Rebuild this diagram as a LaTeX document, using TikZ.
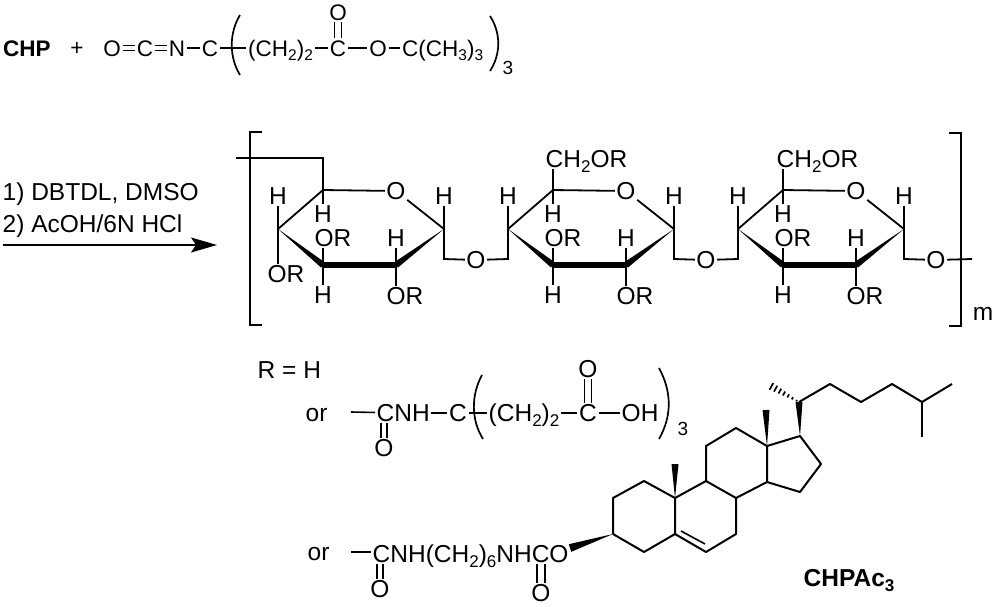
\documentclass[tikz,border=0pt]{standalone}
\usepackage{fontspec}
\setmainfont{Liberation Sans}
\usetikzlibrary{calc,arrows.meta}
\newcommand\sbs[1]{\raisebox{-5pt}{\fontsize{17}{17}\selectfont #1}}
\newcommand\tsbs[1]{\raisebox{-4.5pt}{\fontsize{15.5}{15.5}\selectfont #1}}
\newcommand\wdg[3]{\fill ($(#2)!#3!90:(#1)$) -- (#1) -- ($(#2)!#3!-90:(#1)$) -- cycle;}
\tikzset{
  atom/.style={font=\fontsize{24.5}{28}\selectfont,inner sep=1.5pt,text height=17.5pt,text depth=0pt,text=black},
  topatom/.style={font=\fontsize{22.5}{26}\selectfont,inner sep=2pt,text height=16.1pt,text depth=0pt,text=black},
  boldlabel/.style={atom,font=\fontsize{24.5}{28}\selectfont\bfseries},
  topbold/.style={topatom,font=\fontsize{22.5}{26}\selectfont\bfseries},
  bond/.style={line width=1.8pt,line join=miter},
  thinbond/.style={line width=1.6pt},
  paren/.style={line width=1.7pt},
  brack/.style={line width=1.8pt},
  rxn/.style={line width=1.7pt,-{Stealth[length=26pt,width=15pt,inset=5pt]}},
  steroid/.style={line width=2pt,line join=round},
}
\begin{document}
\begin{tikzpicture}[x=1pt,y=-1pt]
\useasboundingbox (0,0) rectangle (1000,606);
% ---- first line
\node[topbold,anchor=west] (chp) at (1,48) {CHP};
\node[topatom] (plus) at (77,47) {+};
\node[topatom] (o1) at (112,48) {O};
\node[topatom] (c1) at (145,48) {C};
\node[topatom] (n1) at (177,48) {N};
\node[topatom] (c2) at (210,48) {C};
\node[topatom,anchor=west] (ch1) at (246,48) {(CH\tsbs{2})\tsbs{2}};
\node[topatom] (c3) at (338,48) {C};
\node[topatom] (o2) at (338,12) {O};
\node[topatom] (o3) at (378,48) {O};
\node[topatom,anchor=west] (tb) at (400,48) {C(CH\tsbs{3})\tsbs{3}};
\node[topatom] (n3a) at (508,66) {\fontsize{19}{19}\selectfont 3};
\draw[thinbond] ([yshift=-2.5pt]o1.east) -- ([yshift=-2.5pt]c1.west) ([yshift=2.5pt]o1.east) -- ([yshift=2.5pt]c1.west);
\draw[thinbond] ([yshift=-2.5pt]c1.east) -- ([yshift=-2.5pt]n1.west) ([yshift=2.5pt]c1.east) -- ([yshift=2.5pt]n1.west);
\draw[thinbond] (n1) -- (c2);
\draw[thinbond] (c2) -- (ch1);
\draw[thinbond] (ch1) -- (c3);
\draw[thinbond] (c3) -- (o3);
\draw[thinbond] (o3) -- (tb);
\draw[thinbond] ([xshift=-3.5pt]c3.north) -- ([xshift=-3.5pt]o2.south) ([xshift=3.5pt]c3.north) -- ([xshift=3.5pt]o2.south);
\coordinate (pl1) at (240,15); \coordinate (pl2) at (240,75);
\coordinate (pr1) at (490,16); \coordinate (pr2) at (490,71);
\draw[paren] (pl1) .. controls (229,33) and (229,57) .. (pl2);
\draw[paren] (pr1) .. controls (501,33) and (501,54) .. (pr2);
% ---- reagents and arrow
\node[atom,anchor=west] (r1) at (1,192) {1) DBTDL, DMSO};
\node[atom,anchor=west] (r2) at (1,224) {2) AcOH/6N HCl};
\coordinate (as) at (3,245); \coordinate (ae) at (217,245);
\draw[rxn] (as) -- (ae);
% ---- brackets
\coordinate (bl1) at (262,132); \coordinate (bl2) at (250,132); \coordinate (bl3) at (250,325); \coordinate (bl4) at (262,325);
\draw[brack] (bl1) -- (bl2) -- (bl3) -- (bl4);
\coordinate (br1) at (949,133); \coordinate (br2) at (961,133); \coordinate (br3) at (961,326); \coordinate (br4) at (949,326);
\draw[brack] (br1) -- (br2) -- (br3) -- (br4);
\node[atom] (m) at (983,312) {m};
% ---- sugar rings
\foreach \r/\dx in {a/0,b/230,c/460}{
  \begin{scope}[xshift=\dx pt]
    \coordinate (\r c5) at (323,190);
    \node[atom] (\r o) at (396,191) {O};
    \coordinate (\r c1) at (444,229);
    \coordinate (\r c2) at (396,265);
    \coordinate (\r c3) at (323,265);
    \coordinate (\r c4) at (278,229);
    \coordinate (\r c6) at (444,259);
    \coordinate (\r c7) at (278,259);
    \node[atom] (\r h5) at (323,214) {H};
    \node[atom] (\r h4) at (278,196) {H};
    \node[atom] (\r or3) at (333,238) {OR};
    \node[atom] (\r h3) at (323,295) {H};
    \node[atom] (\r h2) at (396,238) {H};
    \node[atom] (\r or2) at (405,296) {OR};
    \node[atom] (\r h1) at (444,196) {H};
    \node[atom] (\r ol) at (476,260) {O};
    \draw[bond] (\r c4) -- (\r c5) -- (\r o) -- (\r c1);
    \wdg{\r c4}{\r c3}{3.2pt}
    \wdg{\r c1}{\r c2}{3.2pt}
    \draw[line width=6.4pt] (\r c3) -- (\r c2);
    \draw[bond] (\r c5) -- (\r h5);
    \draw[bond] (\r c4) -- (\r h4);
    \draw[bond] (\r c3) -- (\r c3 |- \r or3.south);
    \draw[bond] (\r c3) -- (\r h3);
    \draw[bond] (\r c2) -- (\r h2);
    \draw[bond] (\r c2) -- (\r c2 |- \r or2.north);
    \draw[bond] (\r c1) -- (\r h1);
    \draw[bond] (\r c1) -- (\r c6) -- (\r ol);
  \end{scope}
}
\node[atom] (aor4) at (286,274) {OR};
\draw[bond] (ac4) -- (ac4 |- aor4.north);
\coordinate (a0) at (236,158); \coordinate (a1) at (323,158);
\draw[bond] (a0) -- (a1) -- (ac5);
\node[atom,anchor=west] (bch) at (544,159) {CH\sbs{2}OR};
\node[atom,anchor=west] (cch) at (775,159) {CH\sbs{2}OR};
\draw[bond] (bc5) -- (bc5 |- bch.south);
\draw[bond] (cc5) -- (cc5 |- cch.south);
\draw[bond] (aol) -- (bc7) -- (bc4);
\draw[bond] (bol) -- (cc7) -- (cc4);
\coordinate (tail) at (972,259);
\draw[bond] (col) -- (tail);
% ---- R definitions
\node[atom,anchor=west] (rh) at (256,370) {R = H};
\node[atom,anchor=west] (or1) at (304,413) {or};
\coordinate (d1) at (351,412);
\node[atom,anchor=west] (cnh) at (375,413) {CNH};
\node[atom] (o4) at (384,448) {O};
\node[atom] (c4) at (458,413) {C};
\node[atom,anchor=west] (ch2) at (487,413) {(CH\sbs{2})\sbs{2}};
\node[atom] (c5) at (588,413) {C};
\node[atom] (o5) at (588,369) {O};
\node[atom,anchor=west] (oh) at (620,413) {OH};
\node[atom] (n3b) at (683,427) {\fontsize{19}{19}\selectfont 3};
\draw[thinbond] (d1) -- (cnh);
\draw[thinbond] (cnh) -- (c4);
\draw[thinbond] (c4) -- (ch2);
\draw[thinbond] (ch2) -- (c5);
\draw[thinbond] (c5) -- (oh);
\coordinate (cnhc) at (384,413);
\draw[thinbond] ([xshift=-3pt]cnhc |- cnh.south) -- ([xshift=-3pt]o4.north) ([xshift=3pt]cnhc |- cnh.south) -- ([xshift=3pt]o4.north);
\draw[thinbond] ([xshift=-3.5pt]c5.north) -- ([xshift=-3.5pt]o5.south) ([xshift=3.5pt]c5.north) -- ([xshift=3.5pt]o5.south);
\coordinate (ql1) at (482,375); \coordinate (ql2) at (483,439);
\coordinate (qr1) at (659,368); \coordinate (qr2) at (659,439);
\draw[paren] (ql1) .. controls (471,395) and (471,420) .. (ql2);
\draw[paren] (qr1) .. controls (672,392) and (672,416) .. (qr2);
\node[atom,anchor=west] (or2) at (306,552) {or};
\coordinate (d2) at (351,552);
\node[atom,anchor=west] (chain) at (371,554) {CNH(CH\sbs{2})\sbs{6}NHCO};
\node[atom] (o6) at (380,589) {O};
\node[atom] (o7) at (541,593) {O};
\draw[thinbond] (d2) -- (d2 -| chain.west);
\coordinate (kc1) at (380,554); \coordinate (kc2) at (541,554);
\draw[thinbond] ([xshift=-3pt]kc1 |- chain.south) -- ([xshift=-3pt]o6.north) ([xshift=3pt]kc1 |- chain.south) -- ([xshift=3pt]o6.north);
\draw[thinbond] ([xshift=-4pt]kc2 |- chain.south) -- ([xshift=-4pt]o7.north) ([xshift=4pt]kc2 |- chain.south) -- ([xshift=4pt]o7.north);
% ---- steroid
\foreach \n/\x/\y in {s3/613/534,s2/613/498,s1/644/481,s10/675/498,s5/675/534,s4/644/552,s6/706/552,s7/736/534,s8/736/498,s9/706/481,s11/706/446,s12/736/428,s13/767/446,s14/767/482,s15/800/492,s16/821/464,s17/800/436,s20/799/402,s18/766/410,s19/675/464,s21/769/385,s22/830/384,s23/861/402,s24/892/384,s25/922/402,s26/952/384,s27/922/437,dbA/681/531,dbB/705/544,wO/570/548}
  \coordinate (\n) at (\x,\y);
\draw[steroid] (s3) -- (s2) -- (s1) -- (s10) -- (s5) -- (s4) -- (s3);
\draw[steroid] (s5) -- (s6) -- (s7) -- (s8) -- (s9) -- (s10);
\draw[steroid] (s9) -- (s11) -- (s12) -- (s13) -- (s14) -- (s8);
\draw[steroid] (s14) -- (s15) -- (s16) -- (s17) -- (s13);
\draw[steroid] (s20) -- (s22) -- (s23) -- (s24) -- (s25) -- (s26);
\draw[steroid] (s25) -- (s27);
\draw[line width=1.6pt] (dbA) -- (dbB);
\wdg{s3}{wO}{4pt}
\wdg{s10}{s19}{3.5pt}
\wdg{s13}{s18}{3.5pt}
\wdg{s17}{s20}{3.5pt}
\foreach \t/\w in {0.08/0.8,0.22/1.3,0.36/1.8,0.5/2.3,0.64/2.8,0.78/3.3,0.92/3.8}
  \draw[line width=1.7pt] ($($(s20)!\t!(s21)$)!\w pt!90:(s21)$) -- ($($(s20)!\t!(s21)$)!\w pt!-90:(s21)$);
\node[boldlabel,anchor=west] (prod) at (802,578) {CHPAc\sbs{3}};
\end{tikzpicture}
\end{document}
